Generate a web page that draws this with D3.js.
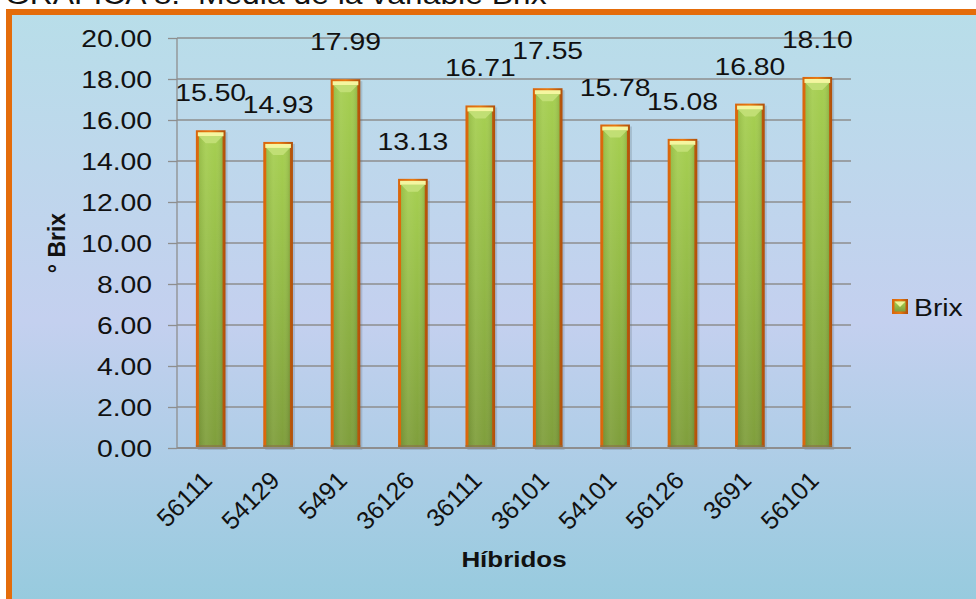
<!DOCTYPE html>
<html>
<head>
<meta charset="utf-8">
<script src="https://cdn.jsdelivr.net/npm/d3@7"></script>
<style>
  html, body { margin: 0; padding: 0; background: #ffffff; }
  svg { display: block; }
  text { font-family: "Liberation Sans", Arial, sans-serif; fill: #111; }
</style>
</head>
<body>
<svg id="chart" width="976" height="599"></svg>
<script>
// ---- data ----
const categories = ["56111", "54129", "5491", "36126", "36111", "36101", "54101", "56126", "3691", "56101"];
const brixValues = [15.50, 14.93, 17.99, 13.13, 16.71, 17.55, 15.78, 15.08, 16.80, 18.10];
const yTickValues = [0, 2, 4, 6, 8, 10, 12, 14, 16, 18, 20];
const seriesName = "Brix";
const titleText = "GRAFICA 8.  Media de la variable Brix";
const xTitle = "Híbridos";
const yTitle = "° Brix";

// ---- layout ----
const W = 976, H = 599;
const plot = { left: 177, right: 851, top: 38, bottom: 448 };
const SX = 1.18; // horizontal text stretch of the reference

const svg = d3.select("#chart");
const defs = svg.append("defs");

// background gradient
const bg = defs.append("linearGradient").attr("id", "bgGrad").attr("x1", 0).attr("y1", 0).attr("x2", 0).attr("y2", 1);
[[0, "#b8dee9"], [0.5, "#c4d0ef"], [1, "#92cadc"]].forEach(([o, c]) => bg.append("stop").attr("offset", o).attr("stop-color", c));

// bar gradients
const edge = defs.append("linearGradient").attr("id", "edgeGrad").attr("x1", 0).attr("y1", 0).attr("x2", 1).attr("y2", 0);
[[0, "#d9650b"], [0.5, "#e8780f"], [1, "#b0500a"]].forEach(([o, c]) => edge.append("stop").attr("offset", o).attr("stop-color", c));
const green = defs.append("linearGradient").attr("id", "greenGrad").attr("x1", 0).attr("y1", 0).attr("x2", 0).attr("y2", 1);
[[0, "#a6cf51"], [0.5, "#93b947"], [1, "#7f9e3c"]].forEach(([o, c]) => green.append("stop").attr("offset", o).attr("stop-color", c));
const greenH = defs.append("linearGradient").attr("id", "greenShade").attr("x1", 0).attr("y1", 0).attr("x2", 1).attr("y2", 0);
[[0, "#000", 0.08], [0.3, "#fff", 0.06], [0.7, "#fff", 0.0], [1, "#000", 0.12]].forEach(([o, c, a]) => greenH.append("stop").attr("offset", o).attr("stop-color", c).attr("stop-opacity", a));

// frame
svg.append("rect").attr("x", 9).attr("y", 12).attr("width", W + 20).attr("height", H + 20)
  .attr("fill", "url(#bgGrad)").attr("stroke", "#e46c0a").attr("stroke-width", 6);

// title (top cropped in reference)
svg.append("text").attr("transform", `translate(5,4) scale(${SX},1)`)
  .attr("font-size", 27).style("white-space", "pre").text(titleText);

// scales
const x = d3.scaleBand().domain(categories).range([plot.left, plot.right]).paddingInner(0.56).paddingOuter(0.28);
const y = d3.scaleLinear().domain([0, 20]).range([plot.bottom, plot.top]);

// gridlines + ticks
const yAxisG = svg.append("g").attr("transform", `translate(${plot.left},0)`)
  .call(d3.axisLeft(y).tickValues(yTickValues).tickSize(9).tickFormat(""));
yAxisG.select(".domain").remove();
yAxisG.selectAll(".tick line").attr("stroke", "#8e8e8e").attr("stroke-width", 1.3);
svg.append("g").selectAll("line").data(yTickValues.filter(v => v > 0)).join("line")
  .attr("x1", plot.left).attr("x2", plot.right)
  .attr("y1", d => y(d)).attr("y2", d => y(d))
  .attr("stroke", "#8e8e8e").attr("stroke-width", 1.3);

// y tick labels
svg.append("g").selectAll("text").data(yTickValues).join("text")
  .attr("transform", d => `translate(152,${y(d)}) scale(${SX},1)`)
  .attr("text-anchor", "end").attr("dy", "0.36em").attr("font-size", 24)
  .text(d => d3.format(".2f")(d));

// y axis line
svg.append("line").attr("x1", plot.left).attr("x2", plot.left).attr("y1", plot.top).attr("y2", plot.bottom)
  .attr("stroke", "#8e8e8e").attr("stroke-width", 1.3);

// bars
const bw = x.bandwidth();
const bars = svg.append("g").selectAll("g").data(categories).join("g")
  .attr("transform", (c) => `translate(${x(c)},0)`);
const vals = new Map(categories.map((c, i) => [c, brixValues[i]]));
// shadow
bars.append("rect").attr("x", 2).attr("y", c => y(vals.get(c)) + 2).attr("width", bw)
  .attr("height", c => y(0) - y(vals.get(c))).attr("fill", "#5a6a7a").attr("opacity", 0.25);
bars.append("rect").attr("x", 0).attr("y", c => y(vals.get(c))).attr("width", bw)
  .attr("height", c => y(0) - y(vals.get(c))).attr("fill", "url(#edgeGrad)");
bars.append("rect").attr("x", 3).attr("y", c => y(vals.get(c)) + 3).attr("width", bw - 6)
  .attr("height", c => y(0) - y(vals.get(c)) - 3).attr("fill", "url(#greenGrad)");
bars.append("rect").attr("x", 3).attr("y", c => y(vals.get(c)) + 3).attr("width", bw - 6)
  .attr("height", c => y(0) - y(vals.get(c)) - 3).attr("fill", "url(#greenShade)");
// top bevel
bars.append("rect").attr("x", 2).attr("y", c => y(vals.get(c)) + 2).attr("width", bw - 4).attr("height", 4)
  .attr("fill", "#f4f6a0");
bars.append("path").attr("d", c => {
  const t = y(vals.get(c)) + 6;
  return `M3,${t} L${bw - 3},${t} L${bw / 2 + 5},${t + 7} L${bw / 2 - 5},${t + 7} Z`;
}).attr("fill", "#c6e27a").attr("opacity", 0.85);
// bottom dark rim
bars.append("rect").attr("x", 0).attr("y", y(0) - 3).attr("width", bw).attr("height", 3)
  .attr("fill", "#8a7048").attr("opacity", 0.6);

// x axis line
svg.append("line").attr("x1", plot.left).attr("x2", plot.right).attr("y1", plot.bottom).attr("y2", plot.bottom)
  .attr("stroke", "#8e8e8e").attr("stroke-width", 2);

// value labels
svg.append("g").selectAll("text").data(categories).join("text")
  .attr("transform", c => `translate(${x(c) + bw / 2},${y(vals.get(c)) - 29}) scale(${SX},1)`)
  .attr("text-anchor", "middle").attr("font-size", 24)
  .text(c => d3.format(".2f")(vals.get(c)));

// x tick labels
svg.append("g").selectAll("text").data(categories).join("text")
  .attr("transform", c => `translate(${x(c) + bw / 2 + 3},482) rotate(-45)`)
  .attr("text-anchor", "end").attr("font-size", 25)
  .text(c => c);

// axis titles
svg.append("text").attr("transform", `translate(${(plot.left + plot.right) / 2},567) scale(${SX},1)`)
  .attr("text-anchor", "middle").attr("font-size", 22).attr("font-weight", "bold").text(xTitle);
svg.append("text").attr("transform", `translate(65,243) rotate(-90)`)
  .attr("text-anchor", "middle").attr("font-size", 23).attr("font-weight", "bold").text(yTitle);

// legend
const lg = svg.append("g").attr("transform", "translate(892,299)");
lg.append("rect").attr("width", 16).attr("height", 15).attr("fill", "url(#edgeGrad)");
lg.append("rect").attr("x", 2.5).attr("y", 2.5).attr("width", 11).attr("height", 10).attr("fill", "url(#greenGrad)");
lg.append("path").attr("d", "M2.5,2.5 L13.5,2.5 L8,8 Z").attr("fill", "#eef59a");
lg.append("text").attr("transform", `translate(22,16.5) scale(${SX},1)`).attr("font-size", 24).text(seriesName);
</script>
</body>
</html>
